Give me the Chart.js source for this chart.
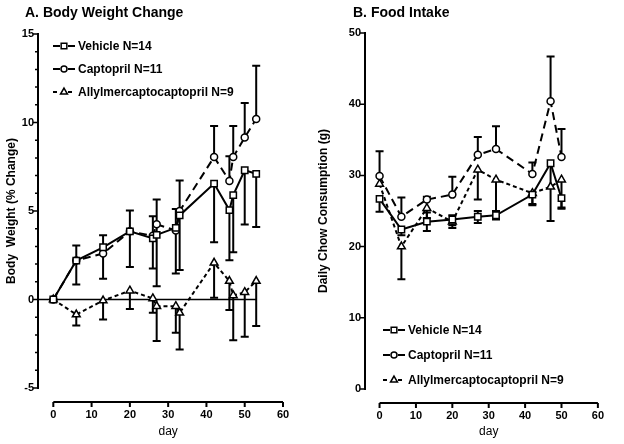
<!DOCTYPE html>
<html lang="en">
<head>
  <meta charset="UTF-8">
  <title>Body Weight Change / Food Intake</title>
  <script src="https://cdn.jsdelivr.net/npm/chart.js"></script>
  <style>
    body {
      margin: 0;
      background: #fff;
      font-family: 'Liberation Sans', Arial, sans-serif;
    }
    #wrap {
      position: relative;
      width: 624px;
      height: 444px;
    }
    .panel {
      position: absolute;
      top: 0;
    }
    .panel-title {
      position: absolute;
      top: 5px;
      font-size: 14px;
      font-weight: bold;
      line-height: 14px;
      color: #000;
    }
  </style>
</head>

<body>
  <div id="wrap">
    <canvas id="bwChart" class="panel" style="left:0" width="312" height="444"></canvas>
    <canvas id="fiChart" class="panel" style="left:312px" width="312" height="444"></canvas>
    <div class="panel-title" style="left:25px">A. Body Weight Change</div>
    <div class="panel-title" style="left:353px">B. Food Intake</div>
  </div>

  <script>
    // shared x ticks (day)
    const xTickValues = [0, 10, 20, 30, 40, 50, 60];
    const groupLabels = ['Vehicle N=14', 'Captopril N=11', 'Allylmercaptocaptopril N=9'];

    // A. body weight change (%), mean and error bar ends
    const bwDays = [0, 6, 13, 20, 26, 27, 32, 33, 42, 46, 47, 50, 53];
    const bwVehicle = [0, 2.2, 2.95, 3.85, 3.45, 3.65, 4.05, 4.75, 6.55, 5.05, 5.9, 7.3, 7.1];
    const bwVehicleHi = [null, 3.05, 3.63, 5.03, 4.7, 5.65, 5.12, 6.72, null, null, null, null, null];
    const bwVehicleLo = [null, 0.85, 1.17, 1.83, 1.75, 0.75, 1.47, 1.66, 3.24, 2.22, 2.67, 4.24, 4.1];
    const bwCaptopril = [0, 2.2, 2.6, 3.85, 3.6, 4.25, 3.9, 5.0, 8.05, 6.7, 8.05, 9.15, 10.2];
    const bwCaptoprilHi = [null, null, null, null, null, null, null, null, 9.8, 8.1, 9.8, 11.1, 13.2];
    const bwAllyl = [0, -0.85, -0.06, 0.5, 0.06, -0.38, -0.38, -0.75, 2.07, 1.04, 0.23, 0.41, 1.04];
    const bwAllylLo = [null, -1.47, -1.13, -0.53, -0.75, -2.35, -1.88, -2.83, 0.1, -0.6, -2.3, -2.1, -1.5];
    const bwZeroLineEnd = 53;

    // B. daily chow consumption (g)
    const fiDays = [0, 6, 13, 20, 27, 32, 42, 47, 50];
    const fiVehicle = [26.7, 22.4, 23.5, 23.8, 24.2, 24.4, 27.3, 31.7, 26.8];
    const fiVehicleHi = [null, null, 24.8, 24.4, 25.0, 25.0, null, null, null];
    const fiVehicleLo = [24.9, 21.6, 22.2, 23.0, 23.3, 23.8, 25.8, 23.6, 25.5];
    const fiCaptopril = [29.9, 24.2, 26.6, 27.3, 32.9, 33.7, 30.2, 40.4, 32.6];
    const fiCaptoprilHi = [33.4, 26.9, 27.0, 29.8, 35.4, 36.9, 31.8, 46.7, 36.5];
    const fiAllyl = [28.8, 20.0, 25.4, 23.5, 30.8, 29.4, 27.5, 28.4, 29.4];
    const fiAllylLo = [null, 15.4, 24.0, 22.6, 26.6, 24.2, 26.0, null, 25.3];

    function points(days, vals, hi, lo) {
      return days.map((d, i) => ({
        x: d, y: vals[i],
        hi: hi ? hi[i] : null,
        lo: lo ? lo[i] : null
      }));
    }

    const lineLook = {
      borderColor: '#000',
      borderWidth: 2,
      pointBackgroundColor: '#fff',
      pointBorderColor: '#000',
      pointBorderWidth: 1.5,
      fill: false,
      tension: 0
    };

    function groupDatasets(days, v, vHi, vLo, c, cHi, a, aLo) {
      return [
        Object.assign({}, lineLook, {
          label: groupLabels[0], data: points(days, v, vHi, vLo),
          pointStyle: 'rect', pointRadius: 4.5, borderDash: []
        }),
        Object.assign({}, lineLook, {
          label: groupLabels[1], data: points(days, c, cHi, null),
          pointStyle: 'circle', pointRadius: 3.5, borderDash: [8, 5]
        }),
        Object.assign({}, lineLook, {
          label: groupLabels[2], data: points(days, a, null, aLo),
          pointStyle: 'triangle', pointRadius: 4.5, borderDash: [4, 3]
        })
      ];
    }

    // axes in the old GraphPad look, error bars and the in-plot legend
    const panelPlugin = {
      id: 'panel',
      beforeDatasetsDraw(chart, args, opts) {
        const { ctx, chartArea, scales: { x, y } } = chart;
        ctx.save();
        ctx.strokeStyle = '#000';

        if (opts.zeroLineEnd != null) {
          ctx.lineWidth = 1.5;
          ctx.beginPath();
          ctx.moveTo(chartArea.left, y.getPixelForValue(0));
          ctx.lineTo(x.getPixelForValue(opts.zeroLineEnd), y.getPixelForValue(0));
          ctx.stroke();
        }

        ctx.lineWidth = 2;
        chart.data.datasets.forEach(ds => {
          ds.data.forEach(p => {
            const px = x.getPixelForValue(p.x);
            const py = y.getPixelForValue(p.y);
            [p.hi, p.lo].forEach(v => {
              if (v == null) return;
              const vy = y.getPixelForValue(v);
              ctx.beginPath();
              ctx.moveTo(px, py);
              ctx.lineTo(px, vy);
              ctx.moveTo(px - 4, vy);
              ctx.lineTo(px + 4, vy);
              ctx.stroke();
            });
          });
        });
        ctx.restore();
      },
      afterDraw(chart, args, opts) {
        const { ctx, chartArea, scales: { x, y } } = chart;
        ctx.save();
        ctx.strokeStyle = '#000';
        ctx.fillStyle = '#000';

        // detached x axis
        const ay = chartArea.bottom + opts.axisGap;
        const xs = xTickValues.map(v => x.getPixelForValue(v));
        ctx.lineWidth = 2;
        ctx.beginPath();
        ctx.moveTo(xs[0], ay);
        ctx.lineTo(xs[xs.length - 1], ay);
        xs.forEach(px => { ctx.moveTo(px, ay); ctx.lineTo(px, ay + 5); });
        ctx.stroke();

        ctx.font = '12px "Liberation Sans", Arial, sans-serif';
        ctx.textAlign = 'center';
        ctx.textBaseline = 'middle';
        ctx.fillText('day', (xs[0] + xs[xs.length - 1]) / 2, opts.xTitleY);

        // y ticks
        ctx.lineWidth = 1.5;
        ctx.beginPath();
        y.ticks.forEach(t => {
          const py = y.getPixelForValue(t.value);
          ctx.moveTo(chartArea.left - 5, py);
          ctx.lineTo(chartArea.left, py);
        });
        if (opts.minorStep) {
          for (let v = y.min; v <= y.max; v += opts.minorStep) {
            const py = y.getPixelForValue(v);
            ctx.moveTo(chartArea.left - 3, py);
            ctx.lineTo(chartArea.left, py);
          }
        }
        ctx.stroke();

        // legend
        const lg = opts.legend;
        ctx.font = 'bold 12px "Liberation Sans", Arial, sans-serif';
        ctx.textAlign = 'left';
        ctx.textBaseline = 'middle';
        chart.data.datasets.forEach((ds, i) => {
          const ly = lg.y + i * lg.gap;
          const mx = lg.x + 11;
          ctx.lineWidth = 2;
          ctx.setLineDash(ds.borderDash);
          ctx.beginPath();
          ctx.moveTo(lg.x, ly);
          ctx.lineTo(mx - 4, ly);
          ctx.moveTo(mx + 4, ly);
          ctx.lineTo(lg.x + 22, ly);
          ctx.stroke();
          ctx.setLineDash([]);
          ctx.fillStyle = '#fff';
          ctx.lineWidth = 1.5;
          Chart.helpers.drawPoint(ctx, {
            pointStyle: ds.pointStyle, radius: ds.pointRadius - 0.5, rotation: 0, borderWidth: 1.5
          }, mx, ly);
          ctx.fillStyle = '#000';
          ctx.fillText(ds.label, lg.x + 25, ly + 0.5);
        });
        ctx.restore();
      }
    };

    const tickFont = { family: '"Liberation Sans", Arial, sans-serif', size: 11, weight: 'bold' };
    const titleFont = { family: '"Liberation Sans", Arial, sans-serif', size: 12, weight: 'bold' };

    function panelOptions(cfg) {
      return {
        responsive: false,
        animation: false,
        layout: { padding: { top: cfg.top, right: cfg.right, left: 0, bottom: 0 } },
        plugins: {
          legend: { display: false },
          tooltip: { enabled: false },
          panel: cfg.panel
        },
        scales: {
          x: {
            type: 'linear',
            min: -4,
            max: 60,
            afterBuildTicks: s => { s.ticks = xTickValues.map(v => ({ value: v })); },
            afterFit: s => { s.height = cfg.xHeight; },
            grid: { display: false, drawTicks: false },
            border: { display: false },
            ticks: { color: '#000', font: tickFont, padding: 20, maxRotation: 0, autoSkip: false }
          },
          y: {
            min: cfg.yMin,
            max: cfg.yMax,
            afterFit: s => { s.width = cfg.yWidth; },
            grid: { display: false, drawTicks: false },
            border: { display: true, color: '#000', width: 2 },
            ticks: { stepSize: cfg.yStep, color: '#000', font: tickFont, padding: 4 },
            title: { display: true, text: cfg.yTitle, color: '#000', font: titleFont, padding: { top: 4, bottom: 0 } }
          }
        }
      };
    }

    new Chart(document.getElementById('bwChart'), {
      type: 'line',
      data: {
        datasets: groupDatasets(bwDays, bwVehicle, bwVehicleHi, bwVehicleLo,
          bwCaptopril, bwCaptoprilHi, bwAllyl, bwAllylLo)
      },
      options: panelOptions({
        top: 34, right: 29, xHeight: 56, yWidth: 38,
        yMin: -5, yMax: 15, yStep: 5,
        yTitle: 'Body  Weight (% Change)',
        panel: {
          zeroLineEnd: bwZeroLineEnd, axisGap: 14, xTitleY: 432, minorStep: 1,
          legend: { x: 53, y: 46, gap: 23 }
        }
      }),
      plugins: [panelPlugin]
    });

    new Chart(document.getElementById('fiChart'), {
      type: 'line',
      data: {
        datasets: groupDatasets(fiDays, fiVehicle, fiVehicleHi, fiVehicleLo,
          fiCaptopril, fiCaptoprilHi, fiAllyl, fiAllylLo)
      },
      options: panelOptions({
        top: 33, right: 11, xHeight: 55, yWidth: 53,
        yMin: 0, yMax: 50, yStep: 10,
        yTitle: 'Daily Chow Consumption (g)',
        panel: {
          zeroLineEnd: null, axisGap: 14, xTitleY: 432, minorStep: null,
          legend: { x: 71, y: 330, gap: 25 }
        }
      }),
      plugins: [panelPlugin]
    });
  </script>
</body>
</html>
